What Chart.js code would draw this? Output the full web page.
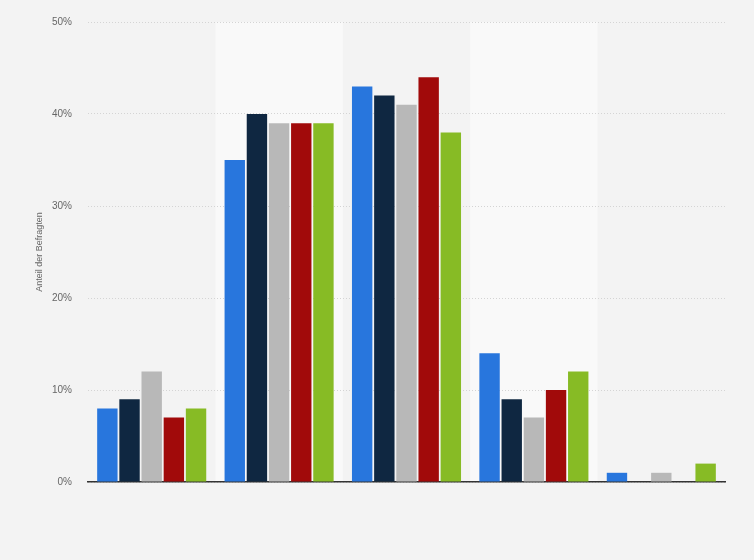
<!DOCTYPE html>
<html>
<head>
<meta charset="utf-8">
<script src="https://cdn.jsdelivr.net/npm/chart.js@4/dist/chart.umd.min.js"></script>
<style>
  html, body { margin: 0; padding: 0; background: #f3f3f3; }
  #wrap { width: 754px; height: 560px; position: relative; }
</style>
</head>
<body>
<div id="wrap"><canvas id="chart"></canvas></div>
<script>
/* ── DATA ── */
const categories = ['Kategorie 1', 'Kategorie 2', 'Kategorie 3', 'Kategorie 4', 'Kategorie 5'];
const seriesNames = ['Gruppe A', 'Gruppe B', 'Gruppe C', 'Gruppe D', 'Gruppe E'];
const seriesA = [8, 35, 43, 14, 1];
const seriesB = [9, 40, 42, 9, 0];
const seriesC = [12, 39, 41, 7, 1];
const seriesD = [7, 39, 44, 10, 0];
const seriesE = [8, 39, 38, 12, 2];
const yTicks = [0, 10, 20, 30, 40, 50];

const colors = ['#2876dd', '#0f2741', '#b8b8b8', '#a10a0a', '#87bb25'];
const allSeries = [seriesA, seriesB, seriesC, seriesD, seriesE];

/* ── Alternating column bands, drawn before grid and axes ── */
const bandPlugin = {
  id: 'bands',
  beforeDraw(chart) {
    const { ctx, chartArea, scales: { x } } = chart;
    const half = (x.getPixelForValue(1) - x.getPixelForValue(0)) / 2;
    ctx.save();
    ctx.fillStyle = '#f9f9f9';
    categories.forEach((c, i) => {
      if (i % 2 === 1) {
        const cx = x.getPixelForValue(i);
        ctx.fillRect(cx - half, chartArea.top, half * 2, chartArea.bottom - chartArea.top);
      }
    });
    ctx.restore();
  }
};

new Chart(document.getElementById('chart'), {
  type: 'bar',
  data: {
    labels: categories,
    datasets: allSeries.map((s, i) => ({
      label: seriesNames[i],
      data: s,
      backgroundColor: colors[i],
      borderWidth: 0,
      categoryPercentage: 0.87,
      barPercentage: 0.92,
    })),
  },
  options: {
    responsive: true,
    maintainAspectRatio: false,
    animation: false,
    layout: { padding: { top: 11, right: 29, bottom: 70, left: 0 } },
    plugins: { legend: { display: false }, tooltip: { enabled: false } },
    scales: {
      x: {
        grid: { display: false },
        ticks: { display: false },
        border: { display: true, color: '#333', width: 1.5 },
      },
      y: {
        min: 0,
        max: 50,
        afterFit(scale) { scale.width = 88; },
        afterBuildTicks(scale) { scale.ticks = yTicks.map(v => ({ value: v })); },
        grid: { color: '#d4d4d4', lineWidth: 1, drawTicks: false },
        border: { display: false, dash: [1, 2] },
        ticks: {
          padding: 16,
          color: '#666',
          font: { family: "'Liberation Sans', Arial, sans-serif", size: 10 },
          callback: v => v + '%',
        },
        title: {
          display: true,
          text: 'Anteil der Befragten',
          color: '#666',
          padding: { top: 34, bottom: 0 },
          font: { family: "'Liberation Sans', Arial, sans-serif", size: 9 },
        },
      },
    },
  },
  plugins: [bandPlugin],
});
</script>
</body>
</html>
